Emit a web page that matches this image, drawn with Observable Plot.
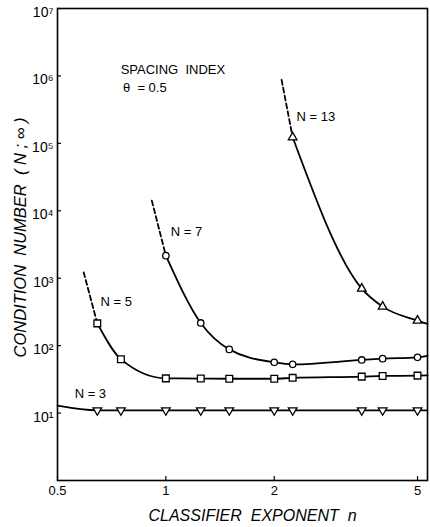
<!DOCTYPE html>
<html><head><meta charset="utf-8">
<script src="https://cdn.jsdelivr.net/npm/d3@7"></script>
<script src="https://cdn.jsdelivr.net/npm/@observablehq/plot@0.6"></script>
<style>html,body{margin:0;padding:0;background:#fff} svg{display:block}</style>
</head><body><div id="chart"></div>
<script>
// Axis ticks
const xTicks = [0.5, 1, 2, 5];
const xTickLabels = ["0.5", "1", "2", "5"];
const yTicks = [1e1, 1e2, 1e3, 1e4, 1e5, 1e6, 1e7];
const yTickLabels = ["10\u00B9", "10\u00B2", "10\u00B3", "10\u2074", "10\u2075", "10\u2076", "10\u2077"];

// Classifier exponent values where markers were drawn
const markX = [0.645, 0.75, 1.0, 1.25, 1.5, 2.0, 2.25, 3.5, 4.0, 5.0];

// N = 3 (inverted triangles)
const n3Y = [11.0, 11.0, 11.0, 11.0, 11.0, 11.0, 11.0, 11.0, 11.0, 11.0];
const n3LineStart = [0.5, 12.9];
const n3LineEnd = [5.33, 11.0];

// N = 5 (squares)
const n5Y = [214, 63, 32.7, 32.5, 32.3, 32.3, 33.3, 34.7, 35.5, 35.9];
const n5DashStart = [0.591, 1224];
const n5LineEnd = [5.33, 36.2];

// N = 7 (circles), markers from n = 1
const n7X = [1.0, 1.25, 1.5, 2.0, 2.25, 3.5, 4.0, 5.0];
const n7Y = [2160, 217, 88, 56.5, 52.8, 61.4, 64.1, 67];
const n7DashStart = [0.914, 14160];
const n7LineEnd = [5.33, 70.3];

// N = 13 (triangles), markers from n = 2.25
const n13X = [2.25, 3.5, 4.0, 5.0];
const n13Y = [123000, 701, 379, 235];
const n13DashStart = [2.096, 875000];
const n13LineEnd = [5.33, 210];

// Annotations
const labelText = ["N = 3", "N = 5", "N = 7", "N = 13"];
const labelX = [0.558, 0.658, 1.032, 2.307];
const labelY = [19.4, 450, 4910, 243800];
const noteText = ["SPACING  INDEX", "\u03B8  = 0.5"];
const noteX = [0.749, 0.76];
const noteY = [1.245e6, 6.61e5];

const xTitle = "CLASSIFIER  EXPONENT  n";
const yTitle = "CONDITION  NUMBER  ( N ; \u221E )";

// Build tables
const pts = (xs, ys) => xs.map((x, i) => ({x, y: ys[i]}));
const pt = (a) => ({x: a[0], y: a[1]});

const n3Marks = pts(markX, n3Y);
const n5Marks = pts(markX, n5Y);
const n7Marks = pts(n7X, n7Y);
const n13Marks = pts(n13X, n13Y);

const n3Line = [pt(n3LineStart), ...n3Marks, pt(n3LineEnd)];
const n5Line = [...n5Marks, pt(n5LineEnd)];
const n5Dash = [pt(n5DashStart), n5Marks[0]];
const n7Line = [...n7Marks, pt(n7LineEnd)];
const n7Dash = [pt(n7DashStart), n7Marks[0]];
const n13Line = [...n13Marks, pt(n13LineEnd)];
const n13Dash = [pt(n13DashStart), n13Marks[0]];

const labels = labelText.map((t, i) => ({t, x: labelX[i], y: labelY[i]}));
const notes = noteText.map((t, i) => ({t, x: noteX[i], y: noteY[i]}));
const xTickRows = xTicks.map((v, i) => ({v, t: xTickLabels[i]}));

const lw = 1.8;
const solid = (data) => Plot.line(data, {x: "x", y: "y", curve: "monotone-x", stroke: "black", strokeWidth: lw});
const dashed = (data) => Plot.line(data, {x: "x", y: "y", stroke: "black", strokeWidth: lw, strokeDasharray: "5,3"});
const dots = (data, symbol, r, rotate = 0) => Plot.dot(data, {x: "x", y: "y", symbol, r, rotate, fill: "white", stroke: "black", strokeWidth: 1.3});

const chart = Plot.plot({
  width: 430,
  height: 527,
  marginLeft: 57,
  marginRight: 3,
  marginTop: 8,
  marginBottom: 47,
  style: {fontFamily: "'Liberation Sans', Arial, sans-serif", fontSize: "13px", background: "white", color: "black"},
  x: {type: "log", domain: [0.5, 5.33], label: null, axis: null},
  y: {type: "log", domain: [1, 1e7], label: null, axis: null},
  marks: [
    Plot.axisX(xTicks, {tickSize: -4, tickFormat: () => "", strokeWidth: 1.2, label: null}),
    Plot.text(xTickRows, {x: "v", text: "t", frameAnchor: "bottom", lineAnchor: "top", dy: 5, fontSize: 13}),
    Plot.axisY(yTicks, {tickSize: -4, tickFormat: () => "", strokeWidth: 1.2, label: null}),
    Plot.axisY(yTicks, {tickSize: 0, tickPadding: 4, dy: 4, fontSize: 14, tickFormat: d => yTickLabels[yTicks.indexOf(d)], label: null}),
    Plot.frame({stroke: "black", strokeWidth: 1.6}),
    solid(n3Line),
    solid(n5Line), dashed(n5Dash),
    solid(n7Line), dashed(n7Dash),
    solid(n13Line), dashed(n13Dash),
    dots(n3Marks, "triangle", 3.2, 180),
    dots(n5Marks, "square", 3.8),
    dots(n7Marks, "circle", 3.2),
    dots(n13Marks, "triangle", 3.2),
    Plot.text(labels, {x: "x", y: "y", text: "t", textAnchor: "start", fontSize: 13}),
    Plot.text(notes, {x: "x", y: "y", text: "t", textAnchor: "start", fontSize: 13}),
    Plot.text([xTitle], {text: d => d, frameAnchor: "bottom", textAnchor: "middle", lineAnchor: "middle", dy: 35, dx: 10, fontSize: 16, fontStyle: "italic"}),
    Plot.text([yTitle], {text: d => d, frameAnchor: "left", textAnchor: "middle", lineAnchor: "middle", rotate: -90, dx: -37, dy: -7, fontSize: 16.5, fontStyle: "italic"})
  ]
});
document.getElementById("chart").appendChild(chart);
</script>
</body></html>
